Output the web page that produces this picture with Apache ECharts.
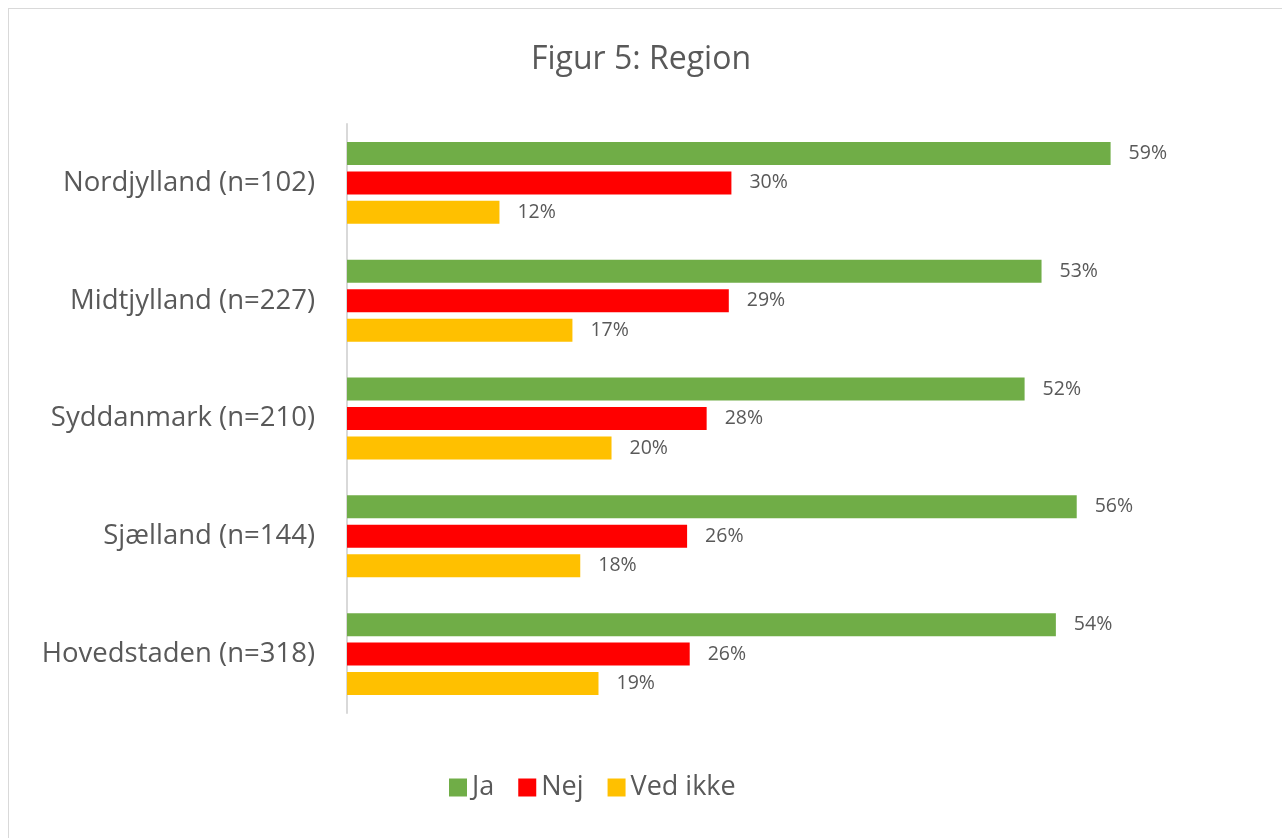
<!DOCTYPE html>
<html>
<head>
<meta charset="utf-8">
<script src="https://cdn.jsdelivr.net/npm/echarts@6/dist/echarts.min.js"></script>
<style>
html,body{margin:0;padding:0;background:#fff;overflow:hidden;}
#frame{position:absolute;left:8px;top:8px;width:1300px;height:900px;border:1px solid #d9d9d9;box-sizing:border-box;}
#chart{position:absolute;left:0;top:0;width:1282px;height:838px;}
</style>
</head>
<body>
<div id="frame"></div>
<div id="chart"></div>
<script>
const categories = ['Nordjylland (n=102)', 'Midtjylland (n=227)', 'Syddanmark (n=210)', 'Sjælland (n=144)', 'Hovedstaden (n=318)'];
const seriesNames = ['Ja', 'Nej', 'Ved ikke'];
const jaValues = [58.6, 53.3, 52.0, 56.0, 54.4];
const nejValues = [29.5, 29.3, 27.6, 26.1, 26.3];
const vedIkkeValues = [11.7, 17.3, 20.3, 17.9, 19.3];
const colors = ['#70AD47', '#FF0000', '#FFC000'];

const FONT = '"Open Sans", "Noto Sans", sans-serif';
const TEXT = '#595959';

const chart = echarts.init(document.getElementById('chart'), null, {renderer: 'canvas'});
function mk(name, data, color) {
  return {
    name: name, type: 'bar', data: data,
    itemStyle: {color: color},
    barWidth: 23, barGap: '28%',
    label: {show: true, position: 'right', distance: 18, color: TEXT, fontFamily: FONT, fontSize: 19.5,
      padding: [4, 0, 0, 0],
      formatter: p => Math.round(p.value) + '%'},
    animation: false
  };
}
chart.setOption({
  animation: false,
  title: {text: 'Figur 5: Region', left: 'center', top: 39, textStyle: {fontFamily: FONT, fontSize: 32, fontWeight: 'normal', color: TEXT}},
  legend: {data: seriesNames, left: 444, top: 769, itemWidth: 18, itemHeight: 18, itemGap: 24, icon: 'rect',
    textStyle: {fontFamily: FONT, fontSize: 27, color: TEXT}},
  grid: {left: 347, right: 88, top: 124, bottom: 125, containLabel: false},
  xAxis: {type: 'value', min: 0, max: 65, show: false, splitLine: {show: false}},
  yAxis: {type: 'category', data: categories, inverse: true,
    axisLine: {show: true, lineStyle: {color: '#d9d9d9', width: 2}},
    axisTick: {show: false},
    axisLabel: {fontFamily: FONT, fontSize: 27.5, color: TEXT, margin: 32, padding: [6, 0, 0, 0]}},
  series: [mk(seriesNames[0], jaValues, colors[0]), mk(seriesNames[1], nejValues, colors[1]), mk(seriesNames[2], vedIkkeValues, colors[2])]
});
</script>
</body>
</html>
